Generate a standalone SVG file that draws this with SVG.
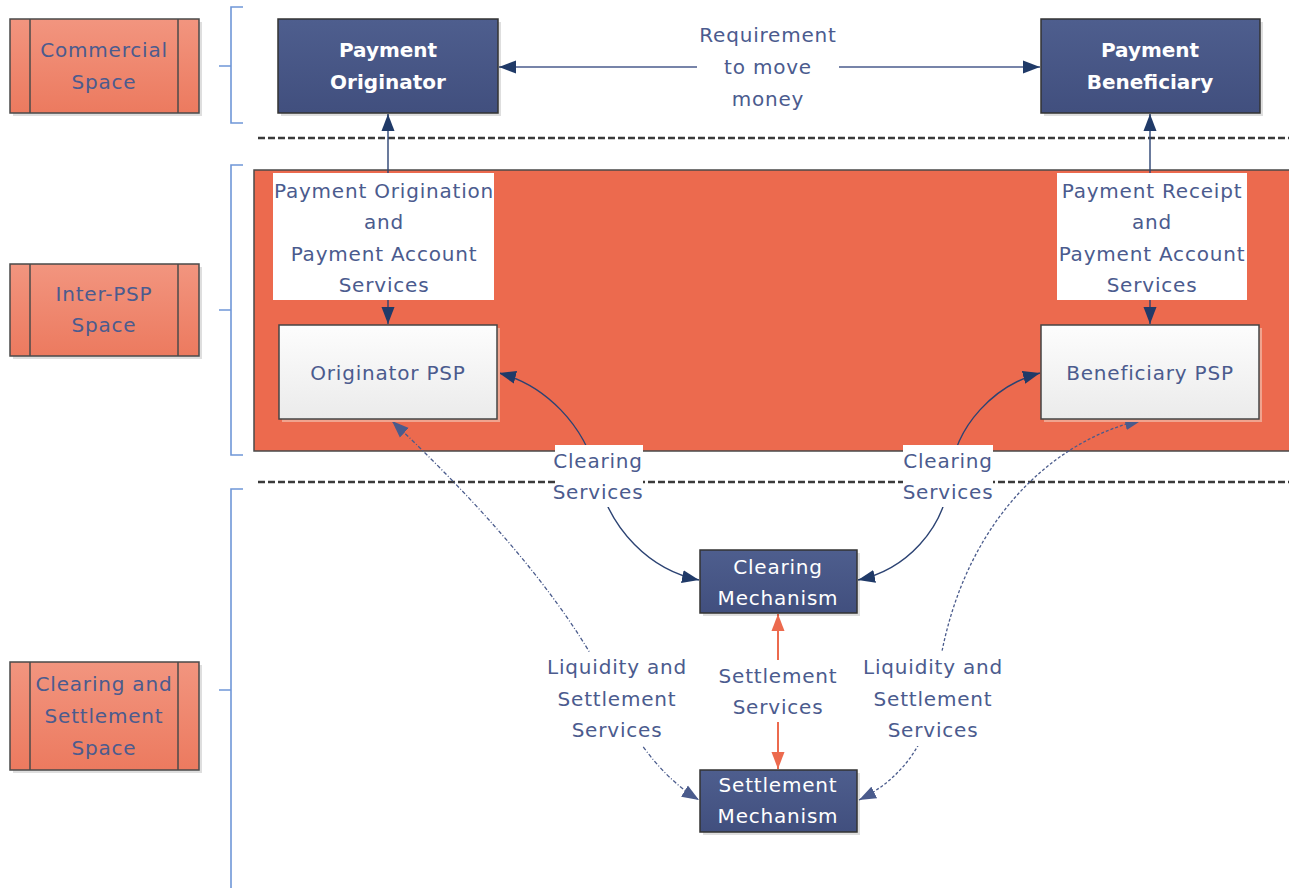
<svg xmlns="http://www.w3.org/2000/svg" width="1289" height="888" viewBox="0 0 1289 888">
<defs>
<linearGradient id="gSpace" x1="0" y1="0" x2="0" y2="1"><stop offset="0" stop-color="#f2957f"/><stop offset="1" stop-color="#ec7a5f"/></linearGradient>
<linearGradient id="gNavy" x1="0" y1="0" x2="0" y2="1"><stop offset="0" stop-color="#4e5e8e"/><stop offset="1" stop-color="#414f7e"/></linearGradient>
<linearGradient id="gPsp" x1="0" y1="0" x2="0" y2="1"><stop offset="0" stop-color="#fdfdfd"/><stop offset="1" stop-color="#ebebeb"/></linearGradient>
<marker id="aNavy" markerUnits="userSpaceOnUse" markerWidth="18" markerHeight="14" refX="17" refY="7" orient="auto-start-reverse"><path d="M0,0.5 L17,7 L0,13.5 Z" fill="#203a68"/></marker>
<marker id="aLight" markerUnits="userSpaceOnUse" markerWidth="18" markerHeight="14" refX="17" refY="7" orient="auto-start-reverse"><path d="M0,0.5 L17,7 L0,13.5 Z" fill="#4a5b8c"/></marker>
<marker id="aOrange" markerUnits="userSpaceOnUse" markerWidth="18" markerHeight="14" refX="17" refY="7" orient="auto-start-reverse"><path d="M0,0.5 L17,7 L0,13.5 Z" fill="#ec6a4e"/></marker>
</defs>
<style>
text{font-family:"DejaVu Sans","Liberation Sans",sans-serif;font-size:20px;text-anchor:middle;letter-spacing:0.8px;fill:#4b5b8e}
.w{fill:#ffffff}
.b{font-weight:bold;letter-spacing:0}
.space{fill:url(#gSpace);stroke:#4a4a4a;stroke-width:1.5}
.navy{fill:url(#gNavy);stroke:#333;stroke-width:1.5}
.psp{fill:url(#gPsp);stroke:#444;stroke-width:1.5}
.shadow{fill:#000;opacity:0.13}
.brk{fill:none;stroke:#6f97d8;stroke-width:1.6}
.sep{stroke:#3a3a3a;stroke-width:2.6;stroke-dasharray:7 3}
.cn{fill:none;stroke:#2c4373;stroke-width:1.4}
.req{fill:none;stroke:#4a5b8c;stroke-width:1.4}
.dd{fill:none;stroke:#4a5b8c;stroke-width:1.3}
.or{fill:none;stroke:#ec6a4e;stroke-width:2}
.lbl{fill:#ffffff}
</style>

<g id="background">
<rect x="254" y="170" width="1045" height="281" fill="#ec6a4e" stroke="#4a4a4a" stroke-width="1.5"/>
<line class="sep" x1="258" y1="138" x2="1289" y2="138"/>
<line class="sep" x1="258" y1="482" x2="1289" y2="482"/>
</g>

<g id="brackets">
<path class="brk" d="M243,7 H231 V123 H243 M231,66 H219"/>
<path class="brk" d="M243,165 H231 V455 H243 M231,310 H219"/>
<path class="brk" d="M243,489 H231 V888 M231,690 H219"/>
</g>

<g id="space-commercial">
<rect class="shadow" x="13" y="22" width="189" height="94"/>
<rect class="space" x="10" y="19" width="189" height="94"/>
<line x1="30" y1="19" x2="30" y2="113" stroke="#4a4a4a" stroke-width="1.5"/>
<line x1="178" y1="19" x2="178" y2="113" stroke="#4a4a4a" stroke-width="1.5"/>
<text x="104" y="57">Commercial</text>
<text x="104" y="89">Space</text>
</g>
<g id="space-interpsp">
<rect class="shadow" x="13" y="267" width="189" height="92"/>
<rect class="space" x="10" y="264" width="189" height="92"/>
<line x1="30" y1="264" x2="30" y2="356" stroke="#4a4a4a" stroke-width="1.5"/>
<line x1="178" y1="264" x2="178" y2="356" stroke="#4a4a4a" stroke-width="1.5"/>
<text x="104" y="301">Inter-PSP</text>
<text x="104" y="332">Space</text>
</g>
<g id="space-clearing">
<rect class="shadow" x="13" y="665" width="189" height="108"/>
<rect class="space" x="10" y="662" width="189" height="108"/>
<line x1="30" y1="662" x2="30" y2="770" stroke="#4a4a4a" stroke-width="1.5"/>
<line x1="178" y1="662" x2="178" y2="770" stroke="#4a4a4a" stroke-width="1.5"/>
<text x="104" y="691">Clearing and</text>
<text x="104" y="723">Settlement</text>
<text x="104" y="755">Space</text>
</g>

<g id="connectors">
<line class="req" x1="499" y1="67" x2="1040" y2="67" marker-start="url(#aNavy)" marker-end="url(#aNavy)"/>
<line class="cn" x1="388" y1="324" x2="388" y2="114" marker-start="url(#aNavy)" marker-end="url(#aNavy)"/>
<line class="cn" x1="1150" y1="324" x2="1150" y2="114" marker-start="url(#aNavy)" marker-end="url(#aNavy)"/>
<path class="cn" d="M499,373 C545,385 585,425 597,476 C610,530 650,570 699,580" marker-start="url(#aNavy)" marker-end="url(#aNavy)"/>
<path class="cn" d="M1040,373 C995,385 955,425 950,476 C945,530 905,570 858,580" marker-start="url(#aNavy)" marker-end="url(#aNavy)"/>
<path class="dd" stroke-dasharray="4 2 1 2" d="M392,421 Q560,580 615,700 Q650,770 699,800" marker-start="url(#aLight)" marker-end="url(#aLight)"/>
<path class="dd" stroke-dasharray="3 2" d="M1142,420 C1050,440 950,530 935,700 Q920,770 859,800" marker-start="url(#aLight)" marker-end="url(#aLight)"/>
<line class="or" x1="778" y1="614" x2="778" y2="769" marker-start="url(#aOrange)" marker-end="url(#aOrange)"/>
</g>

<g id="labels">
<rect class="lbl" x="697" y="22" width="142" height="92"/>
<text x="768" y="42">Requirement</text>
<text x="768" y="74">to move</text>
<text x="768" y="106">money</text>

<rect class="lbl" x="273" y="173" width="221" height="127"/>
<text x="384" y="198">Payment Origination</text>
<text x="384" y="229">and</text>
<text x="384" y="261">Payment Account</text>
<text x="384" y="292">Services</text>

<rect class="lbl" x="1057" y="173" width="190" height="127"/>
<text x="1152" y="198">Payment Receipt</text>
<text x="1152" y="229">and</text>
<text x="1152" y="261">Payment Account</text>
<text x="1152" y="292">Services</text>

<rect class="lbl" x="555" y="445" width="88" height="62"/>
<text x="598" y="468">Clearing</text>
<text x="598" y="499">Services</text>

<rect class="lbl" x="903" y="445" width="90" height="62"/>
<text x="948" y="468">Clearing</text>
<text x="948" y="499">Services</text>

<rect class="lbl" x="545" y="652" width="145" height="94"/>
<text x="617" y="674">Liquidity and</text>
<text x="617" y="706">Settlement</text>
<text x="617" y="737">Services</text>

<rect class="lbl" x="862" y="652" width="145" height="94"/>
<text x="933" y="674">Liquidity and</text>
<text x="933" y="706">Settlement</text>
<text x="933" y="737">Services</text>

<rect class="lbl" x="715" y="660" width="126" height="62"/>
<text x="778" y="683">Settlement</text>
<text x="778" y="714">Services</text>
</g>

<g id="payment-originator">
<rect class="shadow" x="281" y="22" width="220" height="94"/>
<rect class="navy" x="278" y="19" width="220" height="94"/>
<text class="w b" x="388" y="57">Payment</text>
<text class="w b" x="388" y="89">Originator</text>
</g>
<g id="payment-beneficiary">
<rect class="shadow" x="1044" y="22" width="219" height="94"/>
<rect class="navy" x="1041" y="19" width="219" height="94"/>
<text class="w b" x="1150" y="57">Payment</text>
<text class="w b" x="1150" y="89">Beneficiary</text>
</g>
<g id="originator-psp">
<rect x="282" y="328" width="218" height="94" fill="#f0a48f"/>
<rect class="psp" x="279" y="325" width="218" height="94"/>
<text x="388" y="380">Originator PSP</text>
</g>
<g id="beneficiary-psp">
<rect x="1044" y="328" width="218" height="94" fill="#f0a48f"/>
<rect class="psp" x="1041" y="325" width="218" height="94"/>
<text x="1150" y="380">Beneficiary PSP</text>
</g>
<g id="clearing-mechanism">
<rect class="shadow" x="703" y="553" width="157" height="63"/>
<rect class="navy" x="700" y="550" width="157" height="63"/>
<text class="w" x="778" y="574">Clearing</text>
<text class="w" x="778" y="605">Mechanism</text>
</g>
<g id="settlement-mechanism">
<rect class="shadow" x="703" y="773" width="157" height="62"/>
<rect class="navy" x="700" y="770" width="157" height="62"/>
<text class="w" x="778" y="792">Settlement</text>
<text class="w" x="778" y="823">Mechanism</text>
</g>
</svg>
